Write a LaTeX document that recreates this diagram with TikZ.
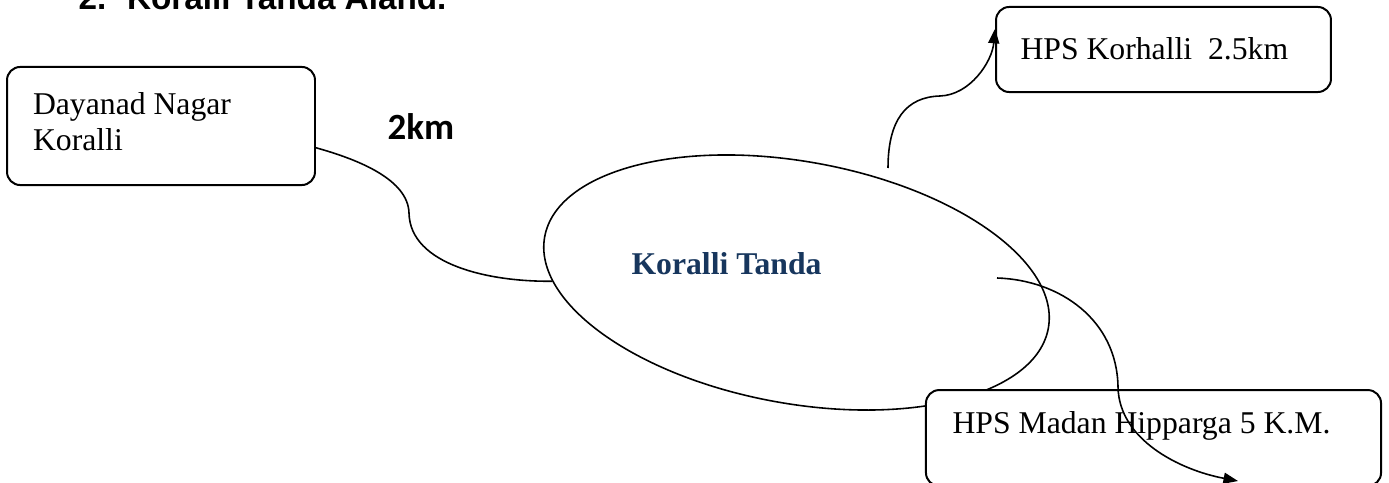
\documentclass[tikz,border=0pt]{standalone}
\usepackage{fontspec}
\setmainfont{Liberation Serif}
\newfontfamily\headfont{Liberation Sans}
\newfontfamily\kmfont{Carlito}
\usetikzlibrary{shapes.geometric, arrows.meta}
\definecolor{tandablue}{RGB}{23,54,93}

\begin{document}
\begin{tikzpicture}[x=0.3786pt, y=-0.3786pt, >={Triangle[length=5.5pt, width=4.2pt]},
        placebox/.style={draw, rounded corners=5pt, line width=0.75pt, fill=white, inner sep=0pt},
        boxtext/.style={anchor=base west, inner sep=0pt, font=\fontsize{12pt}{13.6pt}\selectfont},
        road/.style={line width=0.6pt}]
                \useasboundingbox (0,0) rectangle (1389,483);

                % Title
                \node[anchor=base west, inner sep=0pt, font=\headfont\bfseries\fontsize{12.6pt}{15pt}\selectfont] (title) at (78,10) {2.\hspace{7.9pt}Koralli Tanda Aland.};

                % Nodes
                \node[draw, ellipse, line width=0.6pt, minimum width=193.8pt, minimum height=91.6pt, inner sep=0pt, rotate=-10.3] (tanda) at (796.5,282.5) {};
                \node[boxtext, font=\bfseries\fontsize{12pt}{13.6pt}\selectfont, text=tandablue] (tandaname) at (631,274) {Koralli Tanda};

                \node[placebox, minimum width=116.6pt, minimum height=44.7pt] (dayanad) at (161,126) {};
                \node[boxtext, align=left, anchor=north west] (dayanadname) at (32.5,92) {Dayanad Nagar\\Koralli};

                \node[placebox, minimum width=126.8pt, minimum height=32.2pt] (korhalli) at (1163.5,49.5) {};
                \node[boxtext] (korhalliname) at (1020,60) {HPS Korhalli\ \ 2.5km};

                \node[placebox, minimum width=172.3pt, minimum height=36.3pt] (madan) at (1153.5,438) {};
                \node[boxtext] (madanname) at (952,433.3) {HPS Madan Hipparga 5 K.M.};

                \node[anchor=base west, inner sep=0pt, font=\kmfont\bfseries\fontsize{14pt}{16pt}\selectfont] (distance) at (387,139.3) {2km};

                % Free ends
                \coordinate (korhallifoot) at (888,168);
                \coordinate (madanfoot) at (997,278);
                \coordinate (madanhead) at (1238,481);

                % Edges
                \draw[road] (dayanad.-8) .. controls (360,160) and (408,180) .. (409,213)
                    .. controls (410,265) and (490,282) .. (tanda.190);

                \draw[road, ->] (korhallifoot) .. controls (888,120) and (906,97) .. (940,96)
                    .. controls (970,95) and (992,62) .. (korhalli.173);

                \draw[road, ->] (madanfoot) .. controls (1060,280) and (1117,320) .. (1118,387)
                    .. controls (1119,440) and (1180,470) .. (madanhead);
            \end{tikzpicture}
\end{document}
